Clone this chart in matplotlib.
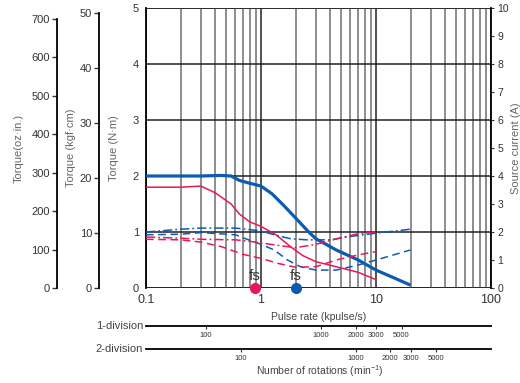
import matplotlib
matplotlib.use("Agg")
import matplotlib.pyplot as plt
from matplotlib.ticker import NullLocator, FixedLocator

plt.rcParams['font.family'] = ['Liberation Sans', 'DejaVu Sans']
plt.rcParams['mathtext.default'] = 'regular'

# ---------------- data ----------------
RED = '#e8185c'
BLUE = '#0b5cb0'

pulse_lim = (0.1, 100)          # kpulse/s
torque_lim = (0, 5)             # N·m
current_lim = (0, 10)           # A

# pull-out torque, blue (thick solid)
blue_torque_f = [0.1, 0.2, 0.3, 0.45, 0.55, 0.65, 0.8, 1.0, 1.25, 1.6, 2.0, 2.6, 3.0, 4.5, 7.0, 10.0, 14.0, 20.0]
blue_torque_t = [2.0, 2.0, 2.0, 2.01, 2.0, 1.92, 1.87, 1.82, 1.68, 1.46, 1.25, 1.0, 0.88, 0.68, 0.5, 0.32, 0.19, 0.05]

# pull-out torque, red (solid)
red_torque_f = [0.1, 0.2, 0.3, 0.4, 0.55, 0.65, 0.8, 1.0, 1.35, 1.8, 2.3, 3.0, 4.5, 7.0, 10.0]
red_torque_t = [1.8, 1.8, 1.82, 1.7, 1.5, 1.32, 1.18, 1.1, 0.95, 0.74, 0.58, 0.47, 0.38, 0.28, 0.15]

# source current, blue dash-dot  (A)
blue_cur1_f = [0.1, 0.2, 0.3, 0.6, 1.0, 1.3, 1.8, 2.5, 4.0, 6.0, 10.0, 20.0]
blue_cur1_a = [2.0, 2.1, 2.14, 2.14, 2.04, 1.9, 1.76, 1.72, 1.72, 1.84, 1.96, 2.1]

# source current, blue dashed  (A)
blue_cur2_f = [0.1, 0.2, 0.3, 0.6, 0.85, 1.0, 1.3, 1.7, 2.2, 3.0, 4.5, 7.0, 10.0, 20.0]
blue_cur2_a = [1.9, 1.92, 1.98, 1.9, 1.66, 1.56, 1.36, 1.0, 0.76, 0.64, 0.64, 0.82, 1.0, 1.36]

# source current, red dash-dot  (A)
red_cur1_f = [0.1, 0.2, 0.3, 0.6, 0.9, 1.3, 2.0, 3.0, 5.0, 7.0, 10.0]
red_cur1_a = [1.82, 1.78, 1.74, 1.72, 1.64, 1.54, 1.44, 1.56, 1.8, 1.94, 2.0]

# source current, red dashed  (A)
red_cur2_f = [0.1, 0.2, 0.3, 0.45, 0.7, 1.0, 1.4, 2.0, 3.0, 4.5, 7.0, 10.0]
red_cur2_a = [1.74, 1.72, 1.64, 1.48, 1.2, 1.06, 0.88, 0.74, 0.76, 1.0, 1.18, 1.3]

# start frequencies fs (kpulse/s)
fs_values = [0.89, 2.0]
fs_colors = [RED, BLUE]

# unit conversions
kgfcm_per_nm = 10.197
ozin_per_nm = 145.7

kgf_ticks = [0, 10, 20, 30, 40, 50]
oz_ticks = [0, 100, 200, 300, 400, 500, 600, 700]
nm_ticks = [0, 1, 2, 3, 4, 5]
amp_ticks = list(range(0, 11))
pulse_ticks = [0.1, 1, 10, 100]
pulse_ticklabels = ['0.1', '1', '10', '100']

rpm_ticks = [100, 1000, 2000, 3000, 5000]
pulses_per_rev = {'1-division': 200, '2-division': 400}

# ---------------- figure ----------------
W, H = 520, 383
fig = plt.figure(figsize=(W / 100, H / 100), dpi=100)
L, R, B, T = 146, 491, 288, 8
rect = [L / W, (H - B) / H, (R - L) / W, (B - T) / H]
ax = fig.add_axes(rect)
ax.set_xscale('log')
ax.set_xlim(*pulse_lim)
ax.set_ylim(*torque_lim)
ax.set_yticks(nm_ticks)
ax.set_xticks(pulse_ticks)
ax.set_xticklabels(pulse_ticklabels)
ax.tick_params(axis='x', which='both', length=0, pad=4.5, labelsize=9, colors='#333')
ax.tick_params(axis='y', length=0, pad=5, labelsize=8, colors='#333')
ax.grid(which='major', axis='y', color='#222', lw=1.1, zorder=0)
ax.grid(which='major', axis='x', color='#333', lw=1.2, zorder=0)
ax.grid(which='minor', axis='x', color='#7a7a7a', lw=1.2, zorder=0)
for s in ['top', 'right', 'bottom']:
    ax.spines[s].set_visible(False)
ax.spines['left'].set_linewidth(1.3)
ax.axhline(0, color='#222', lw=1.3, zorder=1)
ax.axhline(5, color='#222', lw=1.1, zorder=1)
ax.set_ylabel('Torque (N·m)', fontsize=8, color='#666')
ax.yaxis.set_label_coords((119 - L) / (R - L), 0.5)
ax.set_xlabel('Pulse rate (kpulse/s)', fontsize=7.5, color='#444')
ax.xaxis.set_label_coords(0.5, -(312 - B) / (B - T))

# torque curves
ax.plot(blue_torque_f, blue_torque_t, color=BLUE, lw=2.3, zorder=5, solid_capstyle='butt')
ax.plot(red_torque_f, red_torque_t, color=RED, lw=1.1, zorder=5)

# current curves on right axis
axr = ax.twinx()
axr.set_ylim(*current_lim)
axr.set_yticks(amp_ticks)
axr.tick_params(axis='y', length=2.5, width=0.8, pad=2, labelsize=7.5, colors='#333')
for s in ['top', 'left', 'bottom']:
    axr.spines[s].set_visible(False)
axr.spines['right'].set_linewidth(1.3)
axr.set_ylabel('Source current (A)', fontsize=8, color='#666')
axr.yaxis.set_label_coords((511 - L) / (R - L), 0.5)
axr.plot(blue_cur1_f, blue_cur1_a, color=BLUE, lw=1.1, ls=(0, (6, 2, 1.2, 2)), zorder=4)
axr.plot(blue_cur2_f, blue_cur2_a, color=BLUE, lw=1.1, ls=(0, (5, 3)), zorder=4)
axr.plot(red_cur1_f, red_cur1_a, color=RED, lw=1.1, ls=(0, (6, 2, 1.2, 2)), zorder=4)
axr.plot(red_cur2_f, red_cur2_a, color=RED, lw=1.1, ls=(0, (5, 3)), zorder=4)

# fs markers
for fv, c in zip(fs_values, fs_colors):
    ax.plot([fv], [0], 'o', color=c, ms=7, clip_on=False, zorder=10)
    ax.annotate('fs', xy=(fv, 0), xytext=(0, 6), textcoords='offset points',
                ha='center', va='baseline', fontsize=11, color='#333', zorder=10)

# extra left torque axes
def extra_left(ylim, ticks, xpix, label, label_right_px):
    a = ax.twinx()
    a.set_ylim(*ylim)
    a.set_yticks(ticks)
    a.yaxis.set_ticks_position('left')
    a.yaxis.set_label_position('left')
    for s in ['top', 'right', 'bottom']:
        a.spines[s].set_visible(False)
    a.spines['left'].set_position(('axes', (xpix - L) / (R - L)))
    a.spines['left'].set_bounds(ticks[0], ticks[-1])
    a.spines['left'].set_linewidth(1.3)
    a.tick_params(axis='y', length=3.5, width=1.0, pad=1.5, labelsize=8, colors='#333')
    a.set_ylabel(label, fontsize=8, color='#666')
    a.yaxis.set_label_coords((label_right_px - L) / (R - L), 0.5)
    a.patch.set_visible(False)
    return a

extra_left((0, torque_lim[1] * kgfcm_per_nm), kgf_ticks, 99, 'Torque (kgf·cm)', 76)
extra_left((0, torque_lim[1] * ozin_per_nm), oz_ticks, 57, 'Torque(oz·in.)', 24)

# rotation-speed scales
def rpm_axis(ypix, ppr, label):
    a = fig.add_axes([L / W, (H - ypix) / H, (R - L) / W, 1e-4])
    a.set_xscale('log')
    a.set_xlim(pulse_lim[0] * 1000 * 60 / ppr, pulse_lim[1] * 1000 * 60 / ppr)
    a.set_yticks([])
    for s in ['top', 'left', 'right']:
        a.spines[s].set_visible(False)
    a.spines['bottom'].set_linewidth(1.3)
    a.xaxis.set_major_locator(FixedLocator(rpm_ticks))
    a.set_xticklabels([str(v) for v in rpm_ticks],
                      family=['Liberation Sans Narrow', 'Liberation Sans'])
    a.xaxis.set_minor_locator(NullLocator())
    a.tick_params(axis='x', length=2.5, width=0.8, pad=2, labelsize=5.5, colors='#333')
    a.patch.set_visible(False)
    fig.text(143 / W, (H - ypix) / H, label, ha='right', va='center', fontsize=8, color='#444')
    return a

rpm_axis(326, pulses_per_rev['1-division'], '1-division')
rpm_axis(349, pulses_per_rev['2-division'], '2-division')
fig.text(320 / W, (H - 371) / H, 'Number of rotations (min$^{-1}$)', ha='center', va='center',
         fontsize=7.5, color='#444')

fig.savefig('out.png', dpi=100)
